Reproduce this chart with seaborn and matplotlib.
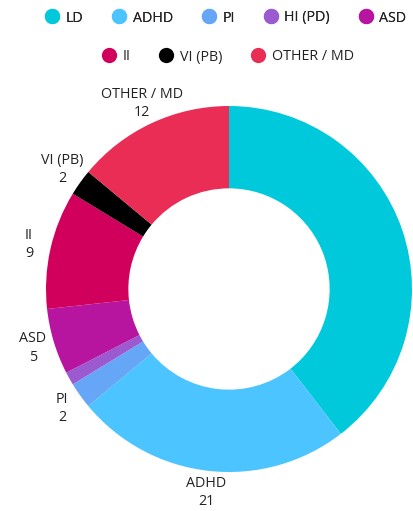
import matplotlib
matplotlib.use("Agg")
import matplotlib.pyplot as plt
import seaborn as sns
from matplotlib.lines import Line2D

# Data
categories = ["LD", "ADHD", "PI", "HI (PD)", "ASD", "II", "VI (PB)", "OTHER / MD"]
counts = [34, 21, 2, 1, 5, 9, 2, 12]
show_label = [False, True, True, False, True, True, True, True]
colors = ["#00c9dc", "#4cc4ff", "#66a6f7", "#9b5ad0", "#b7159f", "#d1005c", "#000000", "#ea2d55"]

sns.set_theme(style="white")
plt.rcParams['font.family'] = ['Open Sans', 'DejaVu Sans']
palette = sns.color_palette(colors)

fig = plt.figure(figsize=(4.13, 5.11), dpi=100)
cx, cy, R = 229, 511 - 289, 183
ax = fig.add_axes([(cx - R) / 413, (cy - R) / 511, 2 * R / 413, 2 * R / 511])

labels = [f"{c}\n{v}" if s else "" for c, v, s in zip(categories, counts, show_label)]
wedges, texts = ax.pie(counts, colors=palette, startangle=90, counterclock=False,
                       radius=1, labels=labels, labeldistance=1.12,
                       wedgeprops=dict(width=0.45, linewidth=0),
                       textprops=dict(fontsize=10.3, color="#222222", linespacing=1.3))
for t in texts:
    t.set_ha("center")
    t.set_va("center")
    t.set_clip_on(False)
ax.set_xlim(-1, 1)
ax.set_ylim(-1, 1)
ax.set_aspect("equal")
ax.axis("off")

def handles(idx):
    return [Line2D([], [], marker="o", linestyle="", markersize=11,
                   markerfacecolor=palette[i], markeredgewidth=0, label=categories[i])
            for i in idx]

leg_kw = dict(loc="center", frameon=False, fontsize=10.3, handletextpad=0.35,
              columnspacing=1.9, handlelength=1.2, labelcolor="#222222")
leg1 = fig.legend(handles=handles(range(5)), bbox_to_anchor=(0.545, 1 - 18 / 511), ncol=5, **leg_kw)
fig.add_artist(leg1)
fig.legend(handles=handles(range(5, 8)), bbox_to_anchor=(0.55, 1 - 57 / 511), ncol=3, **leg_kw)

fig.savefig("out.png", dpi=100)
